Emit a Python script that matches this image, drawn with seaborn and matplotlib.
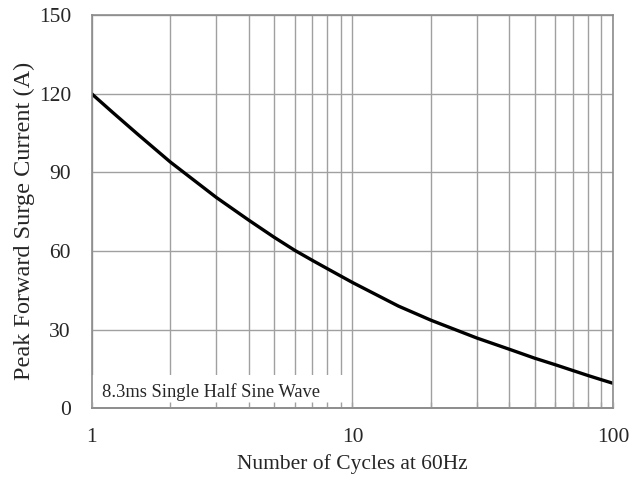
import numpy as np
import pandas as pd
import matplotlib
matplotlib.use("Agg")
import matplotlib.pyplot as plt
import seaborn as sns
from matplotlib.patches import Rectangle
from matplotlib.ticker import LogLocator, NullFormatter, FixedLocator

# Surge current derating curve.
cycles = [1, 1.2, 1.5, 2, 3, 4, 5, 6, 7, 8, 9, 10, 15, 20, 30, 40, 50, 60, 70, 80, 90, 100]
current = [120, 113, 104.6, 94, 80.5, 71.8, 65.3, 60.3, 56.5, 53.3, 50.5, 48,
           39.0, 33.6, 26.8, 22.5, 19.1, 16.6, 14.4, 12.5, 10.9, 9.5]
x_ticks = [1, 10, 100]
x_labels = ["1", "10", "100"]
y_ticks = [0, 30, 60, 90, 120, 150]
note = "8.3ms Single Half Sine Wave"

sns.set_theme(style="white")
plt.rcParams["font.family"] = ["Liberation Serif", "DejaVu Serif"]

df = pd.DataFrame({"cycles": cycles, "current": current})

fig, ax = plt.subplots(figsize=(6.42, 4.78), dpi=100)
fig.subplots_adjust(left=0.143, right=0.955, top=0.968, bottom=0.146)

ax.set_xscale("log")
ax.set_xlim(1, 100)
ax.set_ylim(0, 150)

ax.xaxis.set_major_locator(FixedLocator(x_ticks))
ax.xaxis.set_minor_locator(LogLocator(base=10, subs=np.arange(2, 10)))
ax.xaxis.set_minor_formatter(NullFormatter())
ax.set_xticklabels(x_labels)
ax.set_yticks(y_ticks)

grid_c = "#a0a0a0"
ax.grid(True, which="both", axis="x", color=grid_c, lw=1.0)
ax.grid(True, which="major", axis="y", color=grid_c, lw=1.0)
ax.set_axisbelow(True)
for s in ax.spines.values():
    s.set_color("#8c8c8c")
    s.set_linewidth(1.2)

ax.tick_params(axis="x", which="both", length=0, labelsize=15.5, pad=14)
ax.tick_params(axis="y", which="both", length=0, labelsize=15.5, pad=15)

# short inward tick stubs drawn above the label box
sec = ax.secondary_xaxis("bottom")
sec.set_zorder(4)
sec.xaxis.set_major_locator(FixedLocator(x_ticks))
sec.xaxis.set_minor_locator(LogLocator(base=10, subs=np.arange(2, 10)))
sec.xaxis.set_major_formatter(NullFormatter())
sec.xaxis.set_minor_formatter(NullFormatter())
sec.tick_params(which="both", direction="in", length=4, color=grid_c, width=1.0)
sec.spines["bottom"].set_color("#8c8c8c")
sec.spines["bottom"].set_linewidth(1.2)

sns.lineplot(data=df, x="cycles", y="current", color="black", lw=2.4, ax=ax)

# white label box covering the grid in the lower left corner
ax.add_patch(Rectangle((0, 0), 0.49, 0.084, transform=ax.transAxes,
                       fc="white", ec="none", zorder=1))
ax.text(0.019, 0.041, note, transform=ax.transAxes, fontsize=13.3,
        va="center", ha="left", zorder=2)

ax.set_xlabel("Number of Cycles at 60Hz", fontsize=15.5, labelpad=5)
ax.set_ylabel("Peak Forward Surge Current (A)", fontsize=17.5)
ax.yaxis.set_label_coords(-0.109, 0.478)

fig.savefig("out.png", dpi=100)
